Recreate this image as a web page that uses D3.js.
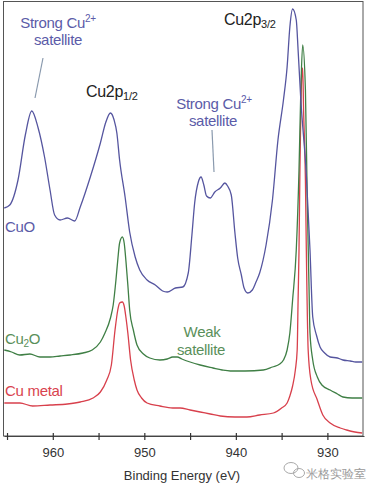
<!DOCTYPE html>
<html><head><meta charset="utf-8">
<script src="https://cdn.jsdelivr.net/npm/d3@7"></script>
<style>body{margin:0;background:#fff}svg{display:block}text{font-family:"Liberation Sans",Arial,sans-serif}</style>
</head><body>
<svg id="c" width="367" height="490"></svg>
<script>
// Binding energy (eV) and intensity (arbitrary units)
const cuoE = [965.3,964.7,963.8,963.0,962.3,961.6,960.9,960.3,959.8,959.2,958.4,957.6,957.0,955.9,954.8,954.2,953.7,953.3,953.0,952.7,952.1,951.6,951.0,950.5,949.7,948.8,948.0,947.5,946.6,945.8,945.2,944.8,944.5,944.1,943.8,943.5,943.2,942.8,942.3,941.7,941.2,940.9,940.5,940.1,939.8,939.4,939.1,938.7,938.2,937.8,937.4,936.7,936.0,935.4,934.8,934.4,934.1,933.8,933.4,933.2,932.9,932.3,931.9,931.6,931.2,930.8,930.3,929.7,928.9,928.3,927.5,926.9,926.2];
const cuoI = [228,231,256,301,325,308,279,246,221,216,218,215,229,259,293,314,323,316,303,276,239,204,179,166,156,151,145,144,148,149,163,201,233,254,259,251,240,238,244,248,253,250,241,203,178,161,148,143,146,154,163,191,236,296,336,369,409,427,416,386,336,261,186,119,101,89,83,79,78,76,75,74,74];

const cu2oE = [965.3,964.5,963.6,962.5,961.4,960.3,959.2,958.1,956.7,955.7,954.8,954.3,953.7,953.4,953.1,952.9,952.7,952.4,952.2,952.0,951.8,951.6,951.2,950.8,950.1,949.4,948.3,947.5,946.9,946.4,945.9,945.0,943.9,942.5,941.5,940.6,939.0,937.0,936.0,935.2,934.8,934.4,934.1,933.8,933.4,933.1,932.9,932.7,932.4,932.2,932.0,931.9,931.6,931.1,930.6,929.7,928.9,928.3,927.3,926.2];
const cu2oI = [86,84,81,82,79,79,80,81,83,86,94,103,118,131,156,176,193,199,193,174,151,126,106,91,82,78,76,77,79,79,77,74,71,68,66,65,65,66,69,72,76,86,103,136,186,266,346,391,346,236,146,103,76,59,51,46,42,39,38,38];

const cuE = [965.3,963.6,962.2,960.3,958.4,957.0,955.6,954.8,954.1,953.6,953.2,952.9,952.7,952.4,952.2,952.0,951.8,951.5,951.1,950.8,950.3,949.7,948.3,946.9,946.1,945.0,943.9,942.8,941.7,940.1,938.8,937.4,935.9,935.0,934.4,934.1,933.8,933.5,933.3,933.2,933.1,933.0,932.9,932.8,932.7,932.6,932.4,932.3,932.1,931.8,931.1,930.5,929.7,928.6,927.9,927.0,926.2];
const cuI = [33,33,30,31,32,34,38,44,56,71,106,126,133,134,130,118,103,76,56,46,38,33,30,28,28,26,24,22,20,19,19,21,23,28,33,40,50,66,86,136,186,266,326,361,368,326,256,186,86,56,36,21,13,8,6,4,3];

const xTicks = [965,960,955,950,945,940,935,930];
const xTickLabels = ["","960","","950","","940","","930"];

const svg = d3.select("#c");
const x = d3.scaleLinear().domain([965.33, 926]).range([4, 364]);
const y = d3.scaleLinear().domain([0, 434]).range([436, 2]);

// frame
svg.append("rect").attr("x",3.5).attr("y",1.5).attr("width",359.5).attr("height",434.5)
  .attr("fill","none").attr("stroke","#555").attr("stroke-width",1);

const line = d3.line().x(d=>x(d[0])).y(d=>y(d[1])).curve(d3.curveMonotoneX);
const series = [
  {E:cuE, I:cuI, c:"#d8404c"},
  {E:cu2oE, I:cu2oI, c:"#3f7f45"},
  {E:cuoE, I:cuoI, c:"#55559f"}
];
series.forEach(s=>{
  svg.append("path").datum(s.E.map((e,i)=>[e,s.I[i]]))
    .attr("d",line).attr("fill","none").attr("stroke",s.c).attr("stroke-width",1.3);
});

// axis
const ax = d3.axisBottom(x).tickValues(xTicks).tickFormat((d,i)=>xTickLabels[i]).tickSize(3).tickSizeOuter(0);
const g = svg.append("g").attr("transform","translate(0,436)").call(ax);
g.select(".domain").attr("stroke","#444").attr("stroke-width",1.2);
g.selectAll(".tick line").attr("stroke","#333").attr("y1",-3).attr("y2",4).attr("stroke-width",1.2);
g.selectAll(".tick text").attr("y",12).attr("dy","0.71em").attr("font-size","13px").attr("fill","#333")
  .attr("font-family","Liberation Sans, Arial, sans-serif");

svg.append("text").attr("x",182).attr("y",480).attr("text-anchor","middle")
  .attr("font-size","13px").attr("fill","#333").text("Binding Energy (eV)");

// annotations
const blue="#5b5ba8", green="#5a8f5a", red="#d9434e", dark="#222";
function sup(t, base, s){ const tx=t; tx.append("tspan").text(base); tx.append("tspan").attr("font-size","10px").attr("dy",-6).text(s); return tx; }
let t1 = svg.append("text").attr("x",58).attr("y",28).attr("text-anchor","middle").attr("font-size","15px").attr("fill",blue).attr("letter-spacing","-0.3");
sup(t1,"Strong Cu","2+");
svg.append("text").attr("x",58).attr("y",45).attr("text-anchor","middle").attr("font-size","15px").attr("fill",blue).attr("letter-spacing","-0.3").text("satellite");
svg.append("line").attr("x1",43).attr("y1",58).attr("x2",35).attr("y2",98).attr("stroke","#8a9aae").attr("stroke-width",1.2);

let t2 = svg.append("text").attr("x",214).attr("y",109).attr("text-anchor","middle").attr("font-size","15px").attr("fill",blue).attr("letter-spacing","-0.3");
sup(t2,"Strong Cu","2+");
svg.append("text").attr("x",213).attr("y",126).attr("text-anchor","middle").attr("font-size","15px").attr("fill",blue).attr("letter-spacing","-0.3").text("satellite");
svg.append("line").attr("x1",212).attr("y1",130).attr("x2",214).attr("y2",172).attr("stroke","#8a9aae").attr("stroke-width",1.2);

function sub(xp,yp,base,s,col,anchor){
  const t=svg.append("text").attr("x",xp).attr("y",yp).attr("font-size","16px").attr("fill",col).attr("letter-spacing","-0.3");
  if(anchor) t.attr("text-anchor",anchor);
  t.append("tspan").text(base); t.append("tspan").attr("font-size","11px").attr("dy",3).text(s);
  return t;
}
sub(86,97,"Cu2p","1/2",dark);
sub(224,25,"Cu2p","3/2",dark);

svg.append("text").attr("x",5).attr("y",232).attr("font-size","15px").attr("fill",blue).attr("letter-spacing","-0.3").text("CuO");
const c2=svg.append("text").attr("x",5).attr("y",344).attr("font-size","15px").attr("fill",green).attr("letter-spacing","-0.3");
c2.append("tspan").text("Cu"); c2.append("tspan").attr("font-size","10px").attr("dy",3).text("2"); c2.append("tspan").attr("dy",-3).text("O");
svg.append("text").attr("x",5).attr("y",396).attr("font-size","15px").attr("fill",red).attr("letter-spacing","-0.3").text("Cu metal");
svg.append("text").attr("x",202).attr("y",337).attr("text-anchor","middle").attr("font-size","15px").attr("fill",green).attr("letter-spacing","-0.3").text("Weak");
svg.append("text").attr("x",201).attr("y",355).attr("text-anchor","middle").attr("font-size","15px").attr("fill",green).attr("letter-spacing","-0.3").text("satellite");

// watermark
const wm = svg.append("g").attr("fill","none").attr("stroke","#aaa").attr("stroke-width",1);
wm.append("ellipse").attr("cx",291).attr("cy",468).attr("rx",7).attr("ry",5.5);
wm.append("ellipse").attr("cx",299).attr("cy",473).attr("rx",5.5).attr("ry",4.5);
svg.append("text").attr("x",306).attr("y",478).attr("font-size","12px").attr("fill","#999")
  .attr("font-family","Noto Sans CJK SC, sans-serif").text("米格实验室");
</script>
</body></html>
